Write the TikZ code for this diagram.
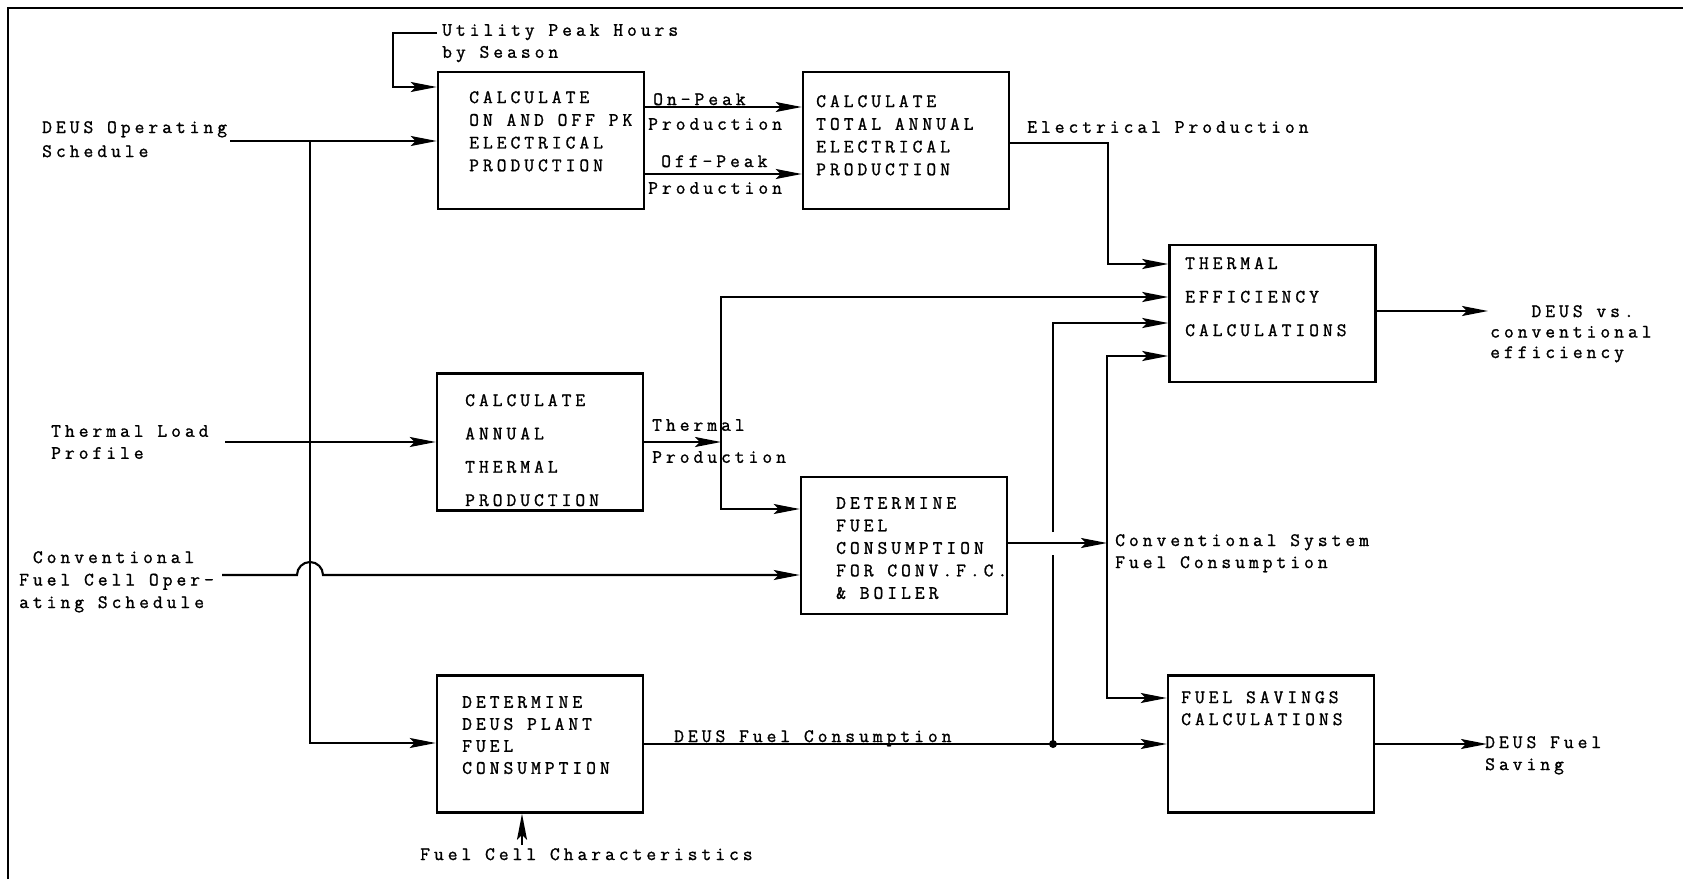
\documentclass[tikz,border=0pt]{standalone}
\usepackage{fontspec}
\newfontfamily\tw[LetterSpace=21,FakeBold=1.2]{Latin Modern Mono}
\usetikzlibrary{arrows.meta}
\begin{document}
\begin{tikzpicture}[x=1pt,y=-1pt,
  box/.style={draw, line width=2.5pt, minimum width=206pt, minimum height=137pt, inner sep=0pt},
  lbl/.style={font=\tw\fontsize{19pt}{#1}\selectfont, anchor=north west, inner sep=0pt, align=left},
  lbl/.default=22pt,
  conn/.style={line width=2.1pt},
  arr/.style={conn, -{Stealth[length=26pt,width=10pt,inset=5pt]}},
  frame/.style={line width=2pt}]
\useasboundingbox (0,0) rectangle (1683,879);
% frame
\coordinate (fr1) at (8,879);
\coordinate (fr2) at (8,8);
\coordinate (fr3) at (1683,8);
\draw[frame] (fr1) -- (fr2) -- (fr3);

% boxes
\node[box] (b1) at (541,140.5) {};
\node[box] (b2) at (906,140.5) {};
\node[box] (b3) at (540,442) {};
\node[box] (b4) at (904,545.5) {};
\node[box] (b5) at (540,744) {};
\node[box] (b6) at (1272.5,313.5) {};
\node[box] (b7) at (1271,744) {};

% box texts
\node[lbl=22.7pt] (b1t) at (469,91) {CALCULATE\\ON AND OFF PK\\ELECTRICAL\\PRODUCTION};
\node[lbl=22.7pt] (b2t) at (816,95) {CALCULATE\\TOTAL ANNUAL\\ELECTRICAL\\PRODUCTION};
\node[lbl=33.3pt] (b3t) at (465,394) {CALCULATE\\ANNUAL\\THERMAL\\PRODUCTION};
\node[lbl=22.5pt] (b4t) at (836,497) {DETERMINE\\FUEL\\CONSUMPTION\\FOR CONV.F.C.\\\& BOILER};
\node[lbl=22pt] (b5t) at (462,696) {DETERMINE\\DEUS PLANT\\FUEL\\CONSUMPTION};
\node[lbl=33.5pt] (b6t) at (1185,257) {THERMAL\\EFFICIENCY\\CALCULATIONS};
\node[lbl=22pt] (b7t) at (1181,691) {FUEL SAVINGS\\CALCULATIONS};

% outside labels
\node[lbl=22pt] (uph) at (442,24) {Utility Peak Hours\\by Season};
\node[lbl=24pt] (dos) at (42,121) {DEUS Operating\\Schedule};
\node[lbl=22pt] (tlp) at (51,425) {Thermal Load\\Profile};
\node[lbl=22.5pt] (cfc) at (19,551) {\ Conventional\\Fuel Cell Oper-\\ating Schedule};
\node[lbl] (onl) at (653,93) {On-Peak};
\node[lbl] (onl2) at (648,118) {Production};
\node[lbl] (offl) at (661,155) {Off-Peak};
\node[lbl] (offl2) at (648,182) {Production};
\node[lbl] (elp) at (1027,121) {Electrical Production};
\node[lbl=32pt] (thp) at (652,419) {Thermal\\Production};
\node[lbl=22pt] (csf) at (1115,534) {Conventional System\\Fuel Consumption};
\node[lbl] (dfc) at (674,730) {DEUS Fuel Consumption};
\node[lbl=20.5pt] (dvc) at (1490,305) {\ \ \ DEUS vs.\\conventional\\efficiency};
\node[lbl=22pt] (dfs) at (1485,736) {DEUS Fuel\\Saving};
\node[lbl] (fcc) at (420,848) {Fuel Cell Characteristics};

% coordinates
\coordinate (up1) at (437,33);
\coordinate (up2) at (393,33);
\coordinate (up3) at (393,87);
\coordinate (ds) at (230,141);
\coordinate (j1) at (310,141);
\coordinate (j2) at (310,743);
\coordinate (tl) at (225,442);
\coordinate (cf) at (222,575);
\coordinate (hop) at (297,575);
\coordinate (onp) at (0,107);
\coordinate (offp) at (0,174);
\coordinate (ep) at (1108,143);
\coordinate (e1) at (1108,264);
\coordinate (tvm) at (721,442);
\coordinate (tvt) at (721,297);
\coordinate (tvb) at (721,509);
\coordinate (cs) at (1107,543);
\coordinate (v2t) at (1107,356);
\coordinate (v2b) at (1107,698);
\coordinate (v1t) at (1053,323);
\coordinate (g1) at (1053,555);
\coordinate (g2) at (1053,532);
\coordinate (jd) at (1053,744);
\coordinate (o1) at (1488,311);
\coordinate (o2) at (1487,744);
\coordinate (fc) at (522,845);

% connectors
\draw[arr] (up1) -- (up2) -- (up3) -- (b1.west |- up3);
\draw[arr] (ds) -- (b1.west |- ds);
\draw[arr] (j1) -- (j2) -- (b5.west |- j2);
\draw[arr] (tl) -- (b3.west |- tl);
\draw[arr] (cf) -- (hop) arc[start angle=180, end angle=360, radius=13] -- (b4.west |- cf);
\draw[arr] (b1.east |- onp) -- (b2.west |- onp);
\draw[arr] (b1.east |- offp) -- (b2.west |- offp);
\draw[arr] (b2.east |- ep) -- (ep) -- (e1) -- (b6.west |- e1);
\draw[arr] (b3.east |- tvm) -- (tvm);
\draw[arr] (tvb) -- (tvt) -- (b6.west |- tvt);
\draw[arr] (tvt) -- (tvb) -- (b4.west |- tvb);
\draw[arr] (b4.east |- cs) -- (cs);
\draw[arr] (v2b) -- (v2t) -- (b6.west |- v2t);
\draw[arr] (v2t) -- (v2b) -- (b7.west |- v2b);
\draw[conn] (jd) -- (g1);
\draw[arr] (g2) -- (v1t) -- (b6.west |- v1t);
\draw[arr] (b5.east |- jd) -- (b7.west |- jd);
\fill (jd) circle (4pt);
\draw[arr] (b6.east |- o1) -- (o1);
\draw[arr] (b7.east |- o2) -- (o2);
\draw[arr] (fc) -- (fc |- b5.south);
\end{tikzpicture}
\end{document}
